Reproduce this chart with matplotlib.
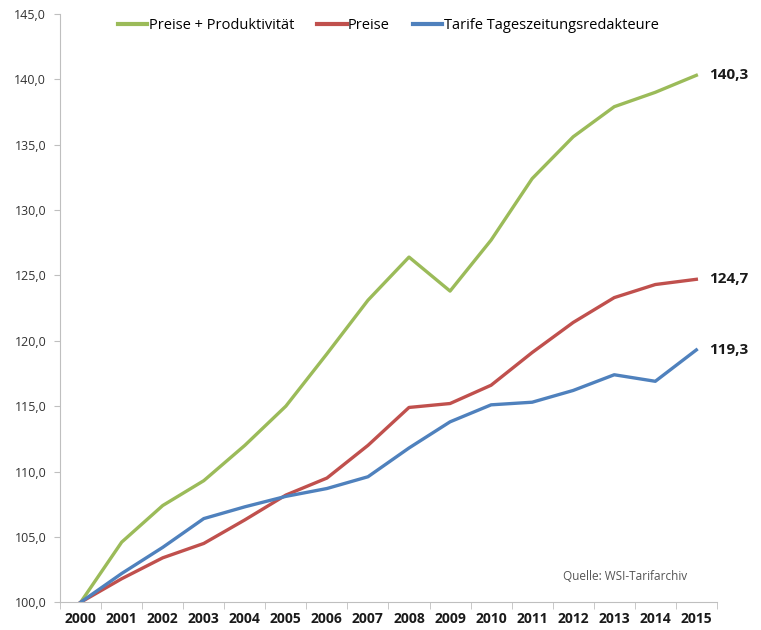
import matplotlib.pyplot as plt
import numpy as np

# Index 2000 = 100
years = ['2000', '2001', '2002', '2003', '2004', '2005', '2006', '2007',
         '2008', '2009', '2010', '2011', '2012', '2013', '2014', '2015']
preise_prod = [100.0, 104.6, 107.4, 109.3, 112.0, 115.0, 119.0, 123.1,
               126.4, 123.8, 127.7, 132.4, 135.6, 137.9, 139.0, 140.3]
preise = [100.0, 101.8, 103.4, 104.5, 106.3, 108.2, 109.5, 112.0,
          114.9, 115.2, 116.6, 119.1, 121.4, 123.3, 124.3, 124.7]
tarife = [100.0, 102.2, 104.2, 106.4, 107.3, 108.1, 108.7, 109.6,
          111.8, 113.8, 115.1, 115.3, 116.2, 117.4, 116.9, 119.3]
end_labels = ['140,3', '124,7', '119,3']

plt.rcParams['font.family'] = ['Open Sans', 'DejaVu Sans']

fig = plt.figure(figsize=(7.61, 6.3), dpi=100)
ax = fig.add_axes([0.079, 0.044, 0.863, 0.934])

x = np.arange(len(years))
green, red, blue = '#9BBB59', '#C0504D', '#4F81BD'
ax.plot(x, preise_prod, color=green, lw=2.4, label='Preise + Produktivität')
ax.plot(x, preise, color=red, lw=2.4, label='Preise')
ax.plot(x, tarife, color=blue, lw=2.4, label='Tarife Tageszeitungsredakteure')

for series, txt in zip([preise_prod, preise, tarife], end_labels):
    ax.annotate(txt, (x[-1], series[-1]), xytext=(9, 0), textcoords='offset points',
                va='center', ha='left', fontsize=11, fontweight='bold', color='#1a1a1a',
                annotation_clip=False)

ax.set_xlim(-0.5, len(years) - 0.5)
ax.set_ylim(100, 145)
ax.set_yticks(np.arange(100, 146, 5))
ax.set_yticklabels([f'{v:.1f}'.replace('.', ',') for v in np.arange(100, 146, 5)],
                   fontsize=9, color='#333333')
ax.set_xticks(x)
ax.set_xticklabels(years, fontsize=10, fontweight='bold', color='#1a1a1a')
ax.set_xticks(np.arange(-0.5, len(years)), minor=True)
ax.tick_params(axis='x', which='major', length=0, pad=7)
ax.tick_params(axis='x', which='minor', length=5, color='#bfbfbf')
ax.tick_params(axis='y', length=4, color='#bfbfbf', pad=6)

for s in ['top', 'right']:
    ax.spines[s].set_visible(False)
ax.spines['left'].set_color('#bfbfbf')
ax.spines['bottom'].set_color('#bfbfbf')

leg = ax.legend(loc='upper center', bbox_to_anchor=(0.5, 1.015), ncol=3, frameon=False,
                fontsize=10.5, handlelength=2.0, handletextpad=0.1, columnspacing=1.6)
for h in leg.get_lines():
    h.set_linewidth(3)

ax.text(0.955, 0.043, 'Quelle: WSI-Tarifarchiv', transform=ax.transAxes,
        ha='right', va='center', fontsize=8.5, color='#555555')

plt.savefig('out.png', dpi=100)
plt.close()
